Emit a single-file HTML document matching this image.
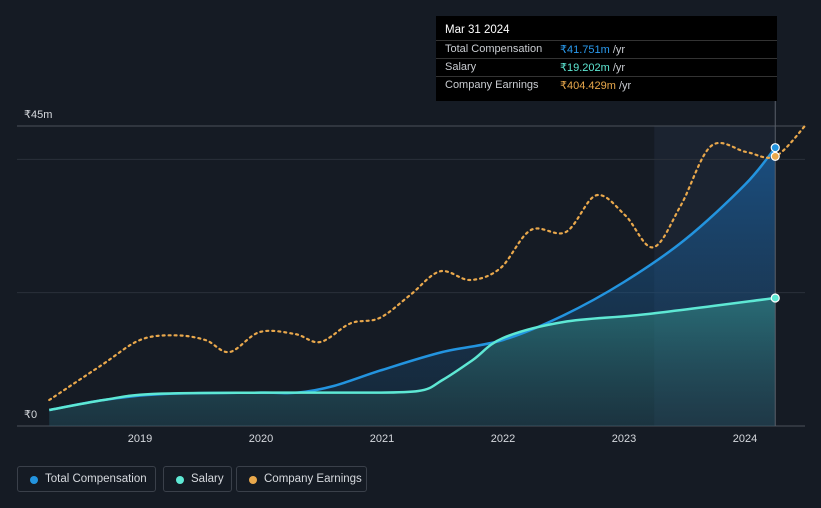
<!DOCTYPE html>
<html><head><meta charset="utf-8"><style>
body{margin:0;background:#151b24;font-family:"Liberation Sans",sans-serif;}
#wrap{position:relative;width:821px;height:508px;overflow:hidden;background:#151b24;}
.leg{position:absolute;top:466px;height:26px;border:1px solid #3a404a;border-radius:3px;color:#d6d9de;font-size:11.5px;line-height:25px;box-sizing:border-box;padding-left:27px;white-space:nowrap;}
.leg i{position:absolute;left:12px;top:9px;width:8px;height:8px;border-radius:50%;}
</style></head><body>
<div id="wrap">
<svg id="svg" width="821" height="508" style="position:absolute;left:0;top:0">
<defs>
<linearGradient id="gc" x1="0" y1="0" x2="0" y2="1"><stop offset="0" stop-color="#1a6bb5" stop-opacity="0.6"/><stop offset="1" stop-color="#1a4a70" stop-opacity="0.25"/></linearGradient>
<linearGradient id="gs" x1="0" y1="0" x2="0" y2="1"><stop offset="0" stop-color="#3aa99a" stop-opacity="0.45"/><stop offset="1" stop-color="#2a5a5a" stop-opacity="0.25"/></linearGradient>
</defs>
</svg>
<div class="leg" style="left:17px;width:139px"><i style="background:#2394df"></i>Total Compensation</div>
<div class="leg" style="left:163px;width:69px"><i style="background:#5ee8d4"></i>Salary</div>
<div class="leg" style="left:236px;width:131px"><i style="background:#e9a84c"></i>Company Earnings</div>
<div style="position:absolute;left:436px;top:16px;width:341px;height:85px;background:#000;font-size:11px;color:#c9ccd1">
<div style="position:absolute;left:9px;top:8px;color:#fff;font-size:11.5px">Mar 31 2024</div>
<div style="position:absolute;left:0;top:24px;width:341px;border-top:1px solid #333"></div>
<div style="position:absolute;left:9px;top:27px">Total Compensation</div><div style="position:absolute;left:124px;top:27px"><span style="color:#2a9bef">₹41.751m</span> /yr</div>
<div style="position:absolute;left:0;top:42px;width:341px;border-top:1px solid #333"></div>
<div style="position:absolute;left:9px;top:45px">Salary</div><div style="position:absolute;left:124px;top:45px"><span style="color:#5ee8d4">₹19.202m</span> /yr</div>
<div style="position:absolute;left:0;top:60px;width:341px;border-top:1px solid #333"></div>
<div style="position:absolute;left:9px;top:63px">Company Earnings</div><div style="position:absolute;left:124px;top:63px"><span style="color:#e9a84c">₹404.429m</span> /yr</div>
</div>
</div>
<script>
const compYears=[2018.25,2018.7,2019.2,2020,2020.3,2020.6,2021,2021.5,2022,2022.5,2023,2023.5,2024,2024.25];
const compVals=[2.4,3.9,4.8,5.0,5.0,6.0,8.4,11.1,12.9,16.6,21.6,27.9,36.2,41.75];
const salYears=[2018.25,2018.7,2019.1,2020,2020.8,2021.3,2021.5,2021.75,2022,2022.5,2023.2,2024.25];
const salVals=[2.4,3.9,4.8,5.0,5.0,5.25,6.9,9.9,13.2,15.6,16.8,19.2];
const earnYears=[2018.25,2018.68,2019,2019.29,2019.54,2019.74,2019.99,2020.28,2020.49,2020.74,2020.98,2021.23,2021.48,2021.73,2021.98,2022.23,2022.52,2022.77,2023.01,2023.24,2023.47,2023.72,2024.01,2024.25,2024.5];
const earnVals=[39,91,129,136,129,111,141,138,126,154,162,196,232,219,237,294,291,346,316,268,331,420,411,404.4,451];
const yTicks=[0,45];
const yTickLabels=["₹0","₹45m"];
const xTicks=[2019,2020,2021,2022,2023,2024];
const NS="http://www.w3.org/2000/svg";
const svg=document.getElementById('svg');
const X=y=>140+(y-2019)*121;
const Y=v=>426-v*300/45;
const YE=v=>426-v*30/45;
function el(t,a,name){const e=document.createElementNS(NS,t);for(const k in a)e.setAttribute(k,a[k]);


svg.appendChild(e);return e;}
el('rect',{x:X(2023.25),y:126,width:X(2024.25)-X(2023.25),height:300,fill:'#1f2a38',opacity:0.6},'highlight-region');
[0,20,40,45].forEach(v=>el('line',{x1:17,x2:805,y1:Y(v),y2:Y(v),stroke:v==0||v==45?'#4a505a':'#2a303a','stroke-width':1},'gridline'));
yTicks.forEach((v,i)=>{const t=el('text',{x:24,y:Y(v)-8,fill:'#d6d9de','font-size':11},'y-tick-label');t.textContent=yTickLabels[i];});
xTicks.forEach(v=>{const t=el('text',{x:X(v),y:442,fill:'#d6d9de','font-size':11,'text-anchor':'middle'},'x-tick-label');t.textContent=v;});
function smooth(pts){let d='M'+pts[0][0]+','+pts[0][1];for(let i=0;i<pts.length-1;i++){const p0=pts[i-1]||pts[i],p1=pts[i],p2=pts[i+1],p3=pts[i+2]||p2;
const c1=[p1[0]+(p2[0]-p0[0])/6,p1[1]+(p2[1]-p0[1])/6],c2=[p2[0]-(p3[0]-p1[0])/6,p2[1]-(p3[1]-p1[1])/6];d+=`C${c1[0]},${c1[1]} ${c2[0]},${c2[1]} ${p2[0]},${p2[1]}`;}return d;}
const cp=compYears.map((y,i)=>[X(y),Y(compVals[i])]);
const sp=salYears.map((y,i)=>[X(y),Y(salVals[i])]);
const ep=earnYears.map((y,i)=>[X(y),YE(earnVals[i])]);
const base=Y(0);
el('path',{d:smooth(cp)+`L${cp[cp.length-1][0]},${base}L${cp[0][0]},${base}Z`,fill:'url(#gc)'},'total-compensation-area');
el('path',{d:smooth(sp)+`L${sp[sp.length-1][0]},${base}L${sp[0][0]},${base}Z`,fill:'url(#gs)'},'salary-area');
el('path',{d:smooth(cp),fill:'none',stroke:'#2394df','stroke-width':2.5},'total-compensation-line');
el('path',{d:smooth(sp),fill:'none',stroke:'#5ee8d4','stroke-width':2.5},'salary-line');
el('path',{d:smooth(ep),fill:'none',stroke:'#e9a84c','stroke-width':2.2,'stroke-dasharray':'2,4','stroke-linecap':'round'},'company-earnings-line');
el('line',{x1:X(2024.25),x2:X(2024.25),y1:101,y2:426,stroke:'#5a606a','stroke-width':1},'hover-line');
const lc=cp[cp.length-1],ls=sp[sp.length-1],le=[X(2024.25),YE(earnVals[23])];
el('circle',{cx:lc[0],cy:lc[1],r:4,fill:'#2394df',stroke:'#fff','stroke-width':1.2},'total-compensation-point');
el('circle',{cx:le[0],cy:le[1],r:4,fill:'#e9a84c',stroke:'#fff','stroke-width':1.2},'company-earnings-point');
el('circle',{cx:ls[0],cy:ls[1],r:4,fill:'#5ee8d4',stroke:'#fff','stroke-width':1.2},'salary-point');
</script>
</body></html>
